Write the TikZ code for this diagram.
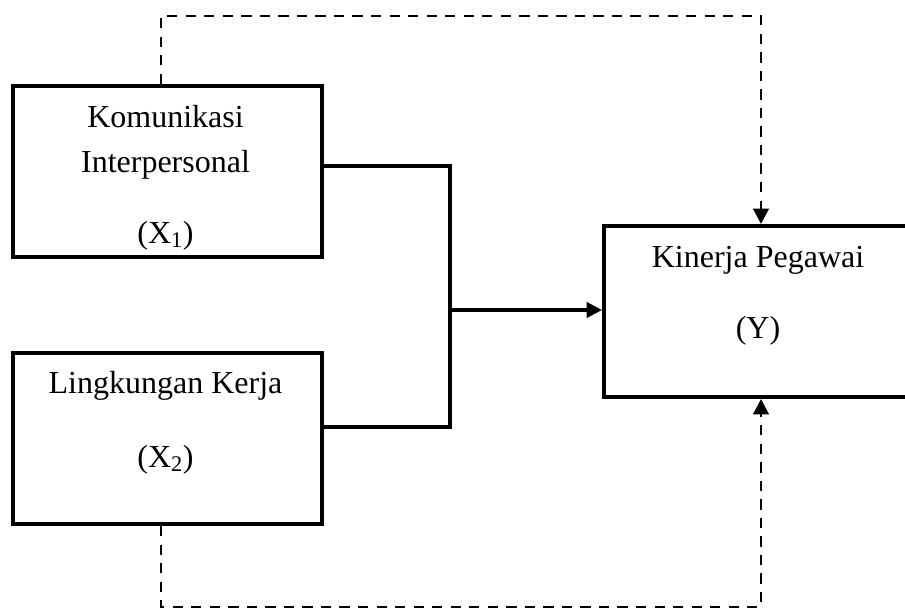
\documentclass[tikz,border=0pt]{standalone}
\usepackage{fontspec}
\setmainfont{Liberation Serif}
\usetikzlibrary{arrows.meta,calc}
\begin{document}
\begin{tikzpicture}[x=0.75pt,y=-0.75pt,
  box/.style={draw, line width=3pt, minimum width=231.75pt, minimum height=128.25pt, inner sep=0pt},
  txt/.style={font=\fontsize{24}{28}\selectfont, anchor=base, inner sep=0pt},
  link/.style={line width=2.4pt},
  dlink/.style={line width=2.2pt, dash pattern=on 7.7pt off 6.2pt},
  tip/.style={-{Triangle[length=11.5pt,width=11.5pt]}}]
\clip (0,0) rectangle (905,610);
% boxes
\node[box] (x1) at (167.5,171.5) {};
\node[box] (x2) at (167.5,438.5) {};
\node[box, minimum width=231pt] (y) at (758,311.5) {};
% texts
\node[txt] (t1a) at (165.5,127) {Komunikasi};
\node[txt] (t1b) at (165.5,172) {Interpersonal};
\node[txt] (t1c) at (165.5,243) {(X\textsubscript{1})};
\node[txt] (t2a) at (165.5,393) {Lingkungan Kerja};
\node[txt] (t2b) at (165.5,467) {(X\textsubscript{2})};
\node[txt] (t3a) at (758,267) {Kinerja Pegawai};
\node[txt] (t3b) at (758,338) {(Y)};
% solid connectors
\coordinate (j1) at (450,166);
\coordinate (j2) at (450,427);
\coordinate (jm) at (450,310);
\draw[link] (x1.east |- j1) -- (j1) -- (j2) -- (x2.east |- j2);
\draw[link, tip] (jm) -- (jm -| y.west);
% dashed connectors
\coordinate (d1) at (161,16);
\coordinate (d2) at (761,16);
\coordinate (d3) at (161,607);
\coordinate (d4) at (761,607);
\draw[dlink, tip] (d1 |- x1.north) -- (d1) -- (d2) -- (d2 |- y.north);
\draw[dlink, tip] (d3 |- x2.south) -- (d3) -- (d4) -- (d4 |- y.south);
\end{tikzpicture}
\end{document}
